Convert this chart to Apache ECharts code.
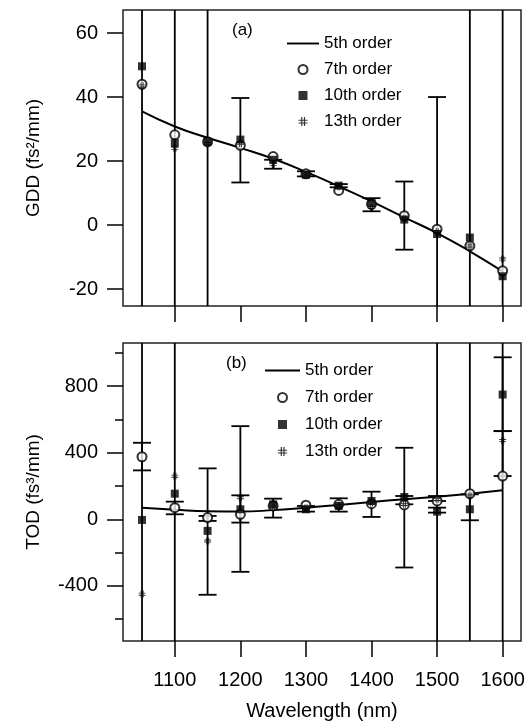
<!DOCTYPE html>
<html>
<head>
<meta charset="utf-8">
<script src="https://cdn.jsdelivr.net/npm/echarts@6/dist/echarts.min.js"></script>
<style>
html,body{margin:0;padding:0;background:#fff;}
#chart{width:530px;height:722px;}
</style>
</head>
<body>
<div id="chart"></div>
<script>
// ---------- data ----------
const wavelengths = [1050, 1100, 1150, 1200, 1250, 1300, 1350, 1400, 1450, 1500, 1550, 1600];

// GDD (fs^2/mm)
const gdd5th  = [35.5, 30.8, 27.3, 24.1, 20.7, 16.6, 12.1, 7.4, 2.4, -2.5, -8.2, -14.5];
const gdd7th  = [44.0, 28.2, 26.0, 24.9, 21.4, 16.0, 10.8, 6.5, 2.9, -1.3, -6.5, -14.3];
const gdd10th = [49.6, 25.6, 26.1, 26.7, 20.4, 15.7, 12.3, 6.9, 1.7, -2.8, -3.9, -16.0];
const gdd13th = [43.5, 24.0, 25.5, 25.5, 19.0, 16.0, 12.0, 5.5, 2.0, -2.0, -6.5, -10.6];

// GDD error bars (bars running past the frame are given ends beyond the axis range)
const gddErrX    = [1050, 1100, 1150, 1200, 1250, 1300, 1350, 1400, 1450, 1500, 1550, 1600];
const gddErrLow  = [-100, -100, -100, 13.3, 17.6, 15.2, 11.8, 4.3, -7.7, -100, -100, -100];
const gddErrHigh = [ 200,  200,  200, 39.7, 20.4, 16.8, 12.8, 8.4, 13.6,   40,  200,  200];

// TOD (fs^3/mm)
const tod5th  = [70, 58, 48, 46, 55, 70, 86, 104, 120, 136, 154, 174];
const tod7th  = [376, 70, 10, 30, 80, 85, 90, 94, 86, 110, 154, 260];
const tod10th = [-4, 154, -70, 60, 90, 60, 80, 110, 134, 46, 60, 750];
const tod13th = [-450, 260, -130, 130, 75, 70, 85, 100, 90, 120, 140, 474];

// TOD error bars
const todErrX    = [1050, 1050, 1100, 1100, 1150, 1150, 1200, 1200, 1250, 1300, 1350, 1400, 1450, 1450, 1500, 1500, 1500, 1550, 1550, 1600, 1600, 1600];
const todErrLow  = [-3000, 294, -3000, 30, -454, -10, -316, -20, 10, 46, 46, 14, -290, 90, -3000, 40, 110, -3000, -6, -3000, 530, 260];
const todErrHigh = [ 3000, 460,  3000, 106, 306, 20, 560, 144, 124, 80, 126, 166, 430, 140, 3000, 70, 140, 3000, 150, 3000, 974, 530];

// axis ticks
const xTicks = [1100, 1200, 1300, 1400, 1500, 1600];
const gddTicks = [-20, 0, 20, 40, 60];
const todTicks = [-400, 0, 400, 800];
const todMinorTicks = [-600, -200, 200, 600, 1000];

// ---------- helpers ----------
const FONT = '"Liberation Sans", Arial, Helvetica, sans-serif';
const hashPath = 'path://M3,0h1.3v10h-1.3z M6,0h1.3v10h-1.3z M0,3h10v1.3h-10z M0,6h10v1.3h-10z';
const squarePath = 'path://M0,0h10v10h-10z';
const linePath = 'path://M0,0h40v2.4h-40z';

function zip(xs, ys) { return xs.map((x, i) => [x, ys[i]]); }
function zip3(xs, a, b) { return xs.map((x, i) => [x, a[i], b[i]]); }

function renderErr(params, api) {
  const x = api.value(0), lo = api.value(1), hi = api.value(2);
  const p1 = api.coord([x, lo]);
  const p2 = api.coord([x, hi]);
  const hw = 9;
  const st = { stroke: '#000', lineWidth: 1.8 };
  return {
    type: 'group',
    children: [
      { type: 'line', shape: { x1: p1[0], y1: p1[1], x2: p2[0], y2: p2[1] }, style: st },
      { type: 'line', shape: { x1: p1[0] - hw, y1: p1[1], x2: p1[0] + hw, y2: p1[1] }, style: st },
      { type: 'line', shape: { x1: p2[0] - hw, y1: p2[1], x2: p2[0] + hw, y2: p2[1] }, style: st }
    ]
  };
}

function panelSeries(idx, l5, s7, s10, s13, ex, elo, ehi) {
  const yi = idx === 0 ? 0 : 1;
  return [
    { type: 'custom', xAxisIndex: idx, yAxisIndex: yi, clip: true,
      renderItem: renderErr, data: zip3(ex, elo, ehi), encode: { x: 0, y: [1, 2] }, silent: true, z: 1 },
    { name: '5th order', type: 'line', xAxisIndex: idx, yAxisIndex: yi,
      data: zip(wavelengths, l5), smooth: true, showSymbol: false, symbol: 'none',
      lineStyle: { color: '#000', width: 2 }, itemStyle: { color: '#000' }, z: 2 },
    { name: '7th order', type: 'scatter', xAxisIndex: idx, yAxisIndex: yi,
      data: zip(wavelengths, s7), symbol: 'emptyCircle', symbolSize: 9,
      itemStyle: { color: '#000', borderWidth: 1 }, z: 3 },
    { name: '10th order', type: 'scatter', xAxisIndex: idx, yAxisIndex: yi,
      data: zip(wavelengths, s10), symbol: 'rect', symbolSize: 8,
      itemStyle: { color: '#000' }, z: 4 },
    { name: '13th order', type: 'scatter', xAxisIndex: idx, yAxisIndex: yi,
      data: zip(wavelengths, s13), symbol: hashPath, symbolSize: 7,
      itemStyle: { color: '#000' }, z: 5 }
  ];
}

function legendData() {
  return [
    { name: '5th order', icon: linePath },
    { name: '7th order', icon: 'emptyCircle', itemStyle: { borderWidth: 1 } },
    { name: '10th order', icon: squarePath },
    { name: '13th order', icon: hashPath }
  ];
}

const xMin = 1021, xMax = 1628;

function xAxis(gridIndex, showLabels) {
  return {
    type: 'value', gridIndex: gridIndex, min: xMin, max: xMax,
    axisLine: { show: false, onZero: false },
    splitLine: { show: false },
    axisTick: { show: true, inside: false, length: 16, customValues: xTicks, lineStyle: { color: '#000', width: 1.5 } },
    axisLabel: showLabels ? { show: true, customValues: xTicks, formatter: v => String(v),
      fontSize: 20, color: '#000', fontFamily: FONT, margin: 29 } : { show: false },
    name: showLabels ? 'Wavelength (nm)' : '',
    nameLocation: 'middle', nameGap: 60,
    nameTextStyle: { fontSize: 20, color: '#000', fontFamily: FONT }
  };
}

const chart = echarts.init(document.getElementById('chart'), null, { renderer: 'canvas' });
chart.setOption({
  animation: false,
  backgroundColor: '#fff',
  textStyle: { fontFamily: FONT },
  grid: [
    { left: 123, top: 10, width: 398, height: 296, show: true, borderColor: '#222', borderWidth: 1.5, backgroundColor: 'transparent' },
    { left: 123, top: 343, width: 398, height: 298, show: true, borderColor: '#222', borderWidth: 1.5, backgroundColor: 'transparent' }
  ],
  xAxis: [ xAxis(0, false), xAxis(1, true) ],
  yAxis: [
    { type: 'value', gridIndex: 0, min: -25.3, max: 67.2,
      axisLine: { show: false, onZero: false }, splitLine: { show: false },
      axisTick: { show: true, length: 16, customValues: gddTicks, lineStyle: { color: '#000', width: 1.5 } },
      axisLabel: { customValues: gddTicks, fontSize: 20, color: '#000', fontFamily: FONT, margin: 25 },
      name: 'GDD (fs²/mm)', nameLocation: 'middle', nameGap: 80,
      nameTextStyle: { fontSize: 19, color: '#000', fontFamily: FONT } },
    { type: 'value', gridIndex: 1, min: -732, max: 1060,
      axisLine: { show: false, onZero: false }, splitLine: { show: false },
      axisTick: { show: true, length: 16, customValues: todTicks, lineStyle: { color: '#000', width: 1.5 } },
      axisLabel: { customValues: todTicks, fontSize: 20, color: '#000', fontFamily: FONT, margin: 25 },
      name: 'TOD (fs³/mm)', nameLocation: 'middle', nameGap: 80,
      nameTextStyle: { fontSize: 19, color: '#000', fontFamily: FONT } },
    { type: 'value', gridIndex: 1, min: -732, max: 1060, position: 'left',
      axisLine: { show: false, onZero: false }, splitLine: { show: false },
      axisTick: { show: true, length: 8, customValues: todMinorTicks, lineStyle: { color: '#000', width: 1.5 } },
      axisLabel: { show: false } }
  ],
  legend: [
    { orient: 'vertical', left: 287, top: 35, padding: 0, itemWidth: 32, itemHeight: 9, itemGap: 9,
      selectedMode: false, data: legendData(),
      textStyle: { fontSize: 17, color: '#000', fontFamily: FONT } },
    { orient: 'vertical', left: 265, top: 362, padding: 0, itemWidth: 35, itemHeight: 9, itemGap: 10,
      selectedMode: false, data: legendData(),
      textStyle: { fontSize: 17, color: '#000', fontFamily: FONT } }
  ],
  graphic: [
    { type: 'text', left: 232, top: 22, style: { text: '(a)', fontSize: 17, fill: '#000', fontFamily: FONT } },
    { type: 'text', left: 226, top: 355, style: { text: '(b)', fontSize: 17, fill: '#000', fontFamily: FONT } }
  ],
  series: [].concat(
    panelSeries(0, gdd5th, gdd7th, gdd10th, gdd13th, gddErrX, gddErrLow, gddErrHigh),
    panelSeries(1, tod5th, tod7th, tod10th, tod13th, todErrX, todErrLow, todErrHigh)
  )
});
</script>
</body>
</html>
